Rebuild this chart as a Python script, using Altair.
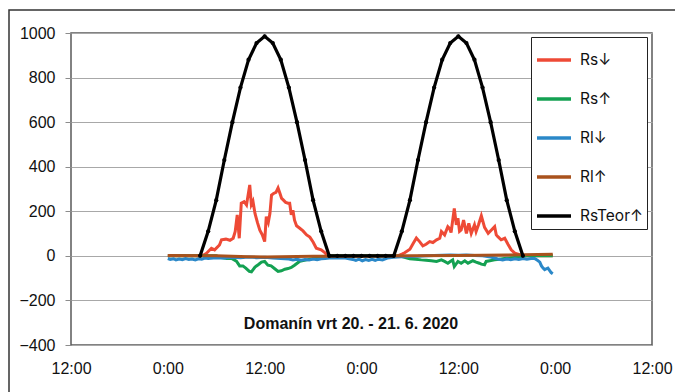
import altair as alt
import pandas as pd

FONT = "Liberation Sans"
LEGEND_FONT = "Inter"

SERIES = ["Rs↓", "Rs↑", "Rl↓", "Rl↑", "RsTeor↑"]
COLORS = ["#EE4A36", "#14A152", "#2B88C8", "#A9521D", "#000000"]

TITLE = "Domanín vrt 20. - 21. 6. 2020"
X_TICKS = [-12, 0, 12, 24, 36, 48, 60]
Y_TICKS = [-400, -200, 0, 200, 400, 600, 800, 1000]

# Rs↓ (hours since 20.6. 0:00, W/m2)
rs_down_h = [0, 4.0, 4.5, 4.8, 5.4, 5.8, 6.4, 6.65, 7.2, 7.7, 8.1, 8.35, 8.6, 8.85, 9.1, 9.45,
             9.75, 10.15, 10.35, 10.55, 10.8, 11.1, 11.4, 11.7, 12.0, 12.2, 12.45, 12.65, 12.85,
             13.1, 13.4, 13.66, 13.9, 14.1, 14.3, 14.6, 14.9, 15.1, 15.3, 15.5, 15.7, 15.95,
             16.35, 16.75, 17.2, 17.6, 18.0, 18.4, 19.0, 19.45, 19.7, 20.0, 28.0,
             28.5, 29.0, 29.35, 30.0, 30.4, 30.8, 31.2, 31.6, 32.0, 32.45, 32.85, 33.3, 33.7,
             33.9, 34.3, 34.7, 34.9, 35.1, 35.5, 35.75, 35.95, 36.15, 36.35, 36.65, 37.0, 37.3,
             37.6, 38.0, 38.2, 38.5, 38.85, 39.25, 39.7, 40.1, 40.5, 40.7, 40.9, 41.3, 41.75,
             42.15, 42.55, 43.0, 43.4, 43.8, 47.7]
rs_down_v = [0, 0, 5, 12, 34, 27, 49, 72, 75, 70, 79, 110, 184, 79, 236, 243,
             228, 318, 230, 245, 190, 150, 115, 95, 64, 176, 150, 190, 273,
             280, 285, 305, 280, 258, 251, 240, 236, 236, 184, 205, 160, 135,
             124, 112, 94, 84, 62, 34, 27, 15, 4, 0, 0,
             0, 8, 14, 30, 55, 80, 64, 45, 52, 64, 60, 72, 79,
             109, 94, 131, 124, 105, 213, 139, 169, 110, 116, 161, 101, 146,
             101, 139, 109, 140, 180, 128, 101, 116, 131, 94, 86, 72, 79,
             52, 27, 12, 8, 0, 0]

# Rs↑
rs_up_h = [0, 6.0, 6.6, 7.3, 7.9, 8.5, 8.9, 9.3, 9.66, 10.1, 10.36, 10.8, 11.2, 11.6, 12.0,
           12.4, 12.8, 13.25, 13.66, 14.07, 14.5, 14.9, 15.3, 15.7, 16.35, 17.2, 18.0, 18.8,
           19.6, 20.0, 28.0, 29.0, 29.97, 30.7, 31.4, 32.0, 32.65, 33.3, 33.9, 34.3, 34.7,
           35.0, 35.3, 35.5, 35.95, 36.35, 36.8, 37.2, 37.8, 38.2, 38.6, 38.85, 39.25, 39.45,
           39.9, 40.5, 41.1, 41.7, 42.4, 43.0, 43.8, 44.5, 47.7]
rs_up_v = [0, 0, -8, -12, -12, -24, -45, -45, -55, -70, -72, -50, -40, -28, -25,
           -42, -45, -58, -70, -67, -60, -57, -52, -42, -24, -18, -12, -7,
           -3, 0, 0, -3, -13, -15, -18, -20, -22, -25, -18, -25, -33,
           -25, -18, -48, -25, -33, -22, -33, -22, -28, -33, -37, -40, -25,
           -22, -18, -15, -12, -10, -7, -3, 0, 0]

# Rl↓
rl_down_h = [0, 0.3, 0.7, 1.0, 1.4, 1.8, 2.2, 2.6, 3.0, 3.4, 3.8, 4.2, 4.6, 5.0, 6.0, 7.0,
             8.0, 9.0, 10.0, 11.0, 12.0, 13.0, 14.0, 15.0, 15.5, 16.0, 16.5, 17.0, 17.5,
             18.0, 18.5, 19.0, 19.5, 20.0, 21.0, 22.0, 22.9, 23.3, 23.7, 24.1, 24.5, 24.9,
             25.3, 25.7, 26.1, 26.6, 27.2, 28.0, 29.0, 30.0, 31.0, 32.0, 33.0, 34.0, 35.0,
             36.0, 37.0, 38.0, 39.0, 40.0, 40.9, 41.5, 42.0, 42.5, 43.0, 43.5, 44.0, 44.5,
             45.0, 45.45, 45.8, 46.1, 46.3, 46.5, 46.7, 46.9, 47.1, 47.3, 47.5, 47.7]
rl_down_v = [-12, -16, -13, -18, -14, -17, -12, -16, -14, -18, -13, -15, -10, -12, -8, -10,
             -6, -8, -5, -8, -6, -10, -12, -14, -18, -15, -20, -16, -19,
             -14, -17, -13, -12, -10, -8, -10, -16, -20, -15, -22, -17, -21,
             -16, -20, -15, -18, -10, -6, -4, -3, -2, 0, 2, 3, 4,
             3, 4, 2, 0, -5, -14, -18, -14, -17, -13, -16, -12, -15,
             -12, -12, -20, -28, -45, -55, -62, -58, -55, -65, -75, -80]

# Rl↑
rl_up_h = [0, 6, 10, 12, 14, 18, 24, 30, 36, 42, 47.7]
rl_up_v = [2, 0, -4, -5, -4, -2, -2, 0, 2, 4, 7]

# RsTeor↑ (hourly)
teor_h = [4, 5, 6, 7, 8, 9, 10, 11, 12, 13, 14, 15, 16, 17, 18, 19, 20,
          21, 22, 23, 24, 25, 26, 27,
          28, 29, 30, 31, 32, 33, 34, 35, 36, 37, 38, 39, 40, 41, 42, 43, 44]
teor_v = [0, 110, 250, 430, 600, 755, 880, 955, 985, 955, 880, 755, 600, 430, 250, 110, 0,
          0, 0, 0, 0, 0, 0, 0,
          0, 110, 250, 430, 600, 755, 880, 955, 985, 955, 880, 755, 600, 430, 250, 110, 0]

frames = []
for name, hs, vs in [(SERIES[0], rs_down_h, rs_down_v), (SERIES[1], rs_up_h, rs_up_v),
                     (SERIES[2], rl_down_h, rl_down_v), (SERIES[3], rl_up_h, rl_up_v),
                     (SERIES[4], teor_h, teor_v)]:
    frames.append(pd.DataFrame({"h": hs, "v": vs, "series": name}))
df = pd.concat(frames, ignore_index=True)

x_enc = alt.X("h:Q", scale=alt.Scale(domain=[-12, 60], nice=False, zero=False),
              axis=alt.Axis(values=X_TICKS, title=None, grid=False, ticks=False, domain=False,
                            labelExpr="datum.value % 24 == 0 ? '0:00' : '12:00'",
                            labelFlush=False, labelOverlap=False, labelPadding=15))
y_enc = alt.Y("v:Q", scale=alt.Scale(domain=[-400, 1000], nice=False),
              axis=alt.Axis(values=Y_TICKS, title=None, grid=True, gridColor="#A8A8A8",
                            gridWidth=1, domain=False, ticks=True, tickSize=6, format="d",
                            tickColor="#8C8C8C", labelPadding=10))
color_enc = alt.Color("series:N", scale=alt.Scale(domain=SERIES, range=COLORS),
                      legend=alt.Legend(title=None, orient="none", legendX=460, legendY=4,
                                        symbolType="stroke", symbolSize=1156,
                                        symbolStrokeWidth=3.5, labelFont=LEGEND_FONT,
                                        labelFontSize=15.5, labelColor="#111",
                                        strokeColor="#222", fillColor="white",
                                        padding=4, rowPadding=11, labelOffset=7,
                                        labelLimit=200))

base = alt.Chart(df)
layers = []
for name in SERIES:
    layers.append(
        base.transform_filter(alt.datum.series == name)
        .mark_line(strokeWidth=3 if name != "RsTeor↑" else 3.2)
        .encode(x=x_enc, y=y_enc, color=color_enc)
    )
points = (base.transform_filter(alt.datum.series == "RsTeor↑")
          .mark_point(filled=True, size=18, color="black", opacity=1)
          .encode(x=x_enc, y=y_enc))

frame = alt.Chart(pd.DataFrame({"a": [0]})).mark_rect(
    filled=False, stroke="#333333", strokeWidth=1.5, clip=False
).encode(x=alt.value(-62), x2=alt.value(700), y=alt.value(-23), y2=alt.value(400))

title = alt.Chart(pd.DataFrame({"t": [TITLE]})).mark_text(
    font=FONT, fontSize=16, fontWeight="bold", align="center", baseline="middle", color="#111"
).encode(text="t:N", x=alt.value(280), y=alt.value(291))

chart = alt.layer(frame, *layers, points, title).properties(
    width=581, height=312,
    padding={"left": 71, "top": 33, "right": 23, "bottom": 47},
    autosize=alt.AutoSizeParams(type="none"),
    background="white",
).configure_view(
    stroke="#5A5A5A", strokeWidth=1.5
).configure_axis(
    labelFont=FONT, labelFontSize=16, labelColor="#111"
)

chart.save("out.html", embed_options={"renderer": "svg", "actions": False})
